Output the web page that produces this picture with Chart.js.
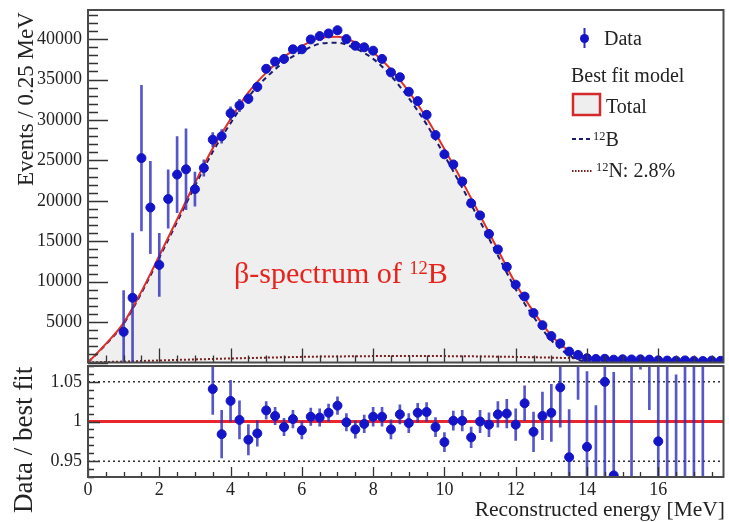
<!DOCTYPE html>
<html>
<head>
<meta charset="utf-8">
<script src="https://cdn.jsdelivr.net/npm/chart.js@4.4.0/dist/chart.umd.min.js"></script>
<style>
  html, body { margin: 0; padding: 0; background: #fff; }
  #wrap { position: relative; width: 729px; height: 522px; overflow: hidden;
          font-family: "Liberation Serif", "Times New Roman", serif; color: #222; }
  canvas { position: absolute; left: 0; }
  #topChart { top: 0; }
  #ratioChart { top: 360px; }
  .t { position: absolute; white-space: nowrap; line-height: 1; }
  .vt { position: absolute; writing-mode: vertical-rl; transform: rotate(180deg);
        text-align: end; white-space: nowrap; line-height: 1; }
  sup { font-size: 0.62em; vertical-align: 0.5em; line-height: 0; }
</style>
</head>
<body>
<div id="wrap">
  <canvas id="topChart" width="729" height="368"></canvas>
  <canvas id="ratioChart" width="729" height="162"></canvas>

  <div class="vt" style="left:14px; top:12px; height:180px; font-size:23px;">Events / 0.25 MeV</div>
  <div class="vt" style="left:10px; top:367px; height:155px; font-size:27px;">Data / best fit</div>
  <div class="t" style="right:4px; top:499px; font-size:21.5px;">Reconstructed energy [MeV]</div>

  <div class="t" style="left:234px; top:258px; font-size:30px; color:#e8221c;">β-spectrum of <sup>12</sup>B</div>

  <svg style="position:absolute; left:560px; top:15px;" width="60" height="170">
    <line x1="24.5" y1="13" x2="24.5" y2="33" stroke="#2a2ac4" stroke-width="2"/>
    <circle cx="24.5" cy="23.5" r="4.5" fill="#1414c8"/>
    <rect x="13" y="79" width="27" height="21" fill="#eeeeee" stroke="#d42a2a" stroke-width="2.5"/>
    <line x1="12" y1="124" x2="33" y2="124" stroke="#1c1c6e" stroke-width="2" stroke-dasharray="4,3"/>
    <line x1="12" y1="156" x2="33" y2="156" stroke="#7a1c1c" stroke-width="2" stroke-dasharray="1.5,1.5"/>
  </svg>
  <div class="t" style="left:604px; top:28px; font-size:20px;">Data</div>
  <div class="t" style="left:571px; top:65px; font-size:20px;">Best fit model</div>
  <div class="t" style="left:606px; top:96px; font-size:20px;">Total</div>
  <div class="t" style="left:593px; top:129px; font-size:20px;"><sup>12</sup>B</div>
  <div class="t" style="left:596px; top:160px; font-size:20px;"><sup>12</sup>N: 2.8%</div>
</div>

<script>
// measured spectrum, 0.25 MeV bins
const energy = [1.0, 1.25, 1.5, 1.75, 2.0, 2.25, 2.5, 2.75, 3.0, 3.25, 3.5, 3.75, 4.0, 4.25, 4.5, 4.75,
  5.0, 5.25, 5.5, 5.75, 6.0, 6.25, 6.5, 6.75, 7.0, 7.25, 7.5, 7.75, 8.0, 8.25, 8.5, 8.75,
  9.0, 9.25, 9.5, 9.75, 10.0, 10.25, 10.5, 10.75, 11.0, 11.25, 11.5, 11.75, 12.0, 12.25, 12.5, 12.75,
  13.0, 13.25, 13.5, 13.75, 14.0, 14.25, 14.5, 14.75, 15.0, 15.25, 15.5, 15.75, 16.0, 16.25, 16.5, 16.75,
  17.0, 17.25, 17.5, 17.75];
const events = [3790, 8010, 25280, 19170, 12070, 20220, 23240, 23890, 21440, 24060, 27560, 27980, 30830, 31800, 32620, 34090,
  36330, 37220, 37550, 38740, 38740, 39960, 40370, 40700, 41100, 40000, 39180, 38990, 38570, 37550, 35880, 35290,
  33490, 32330, 30640, 28130, 25750, 24500, 22390, 19690, 18190, 15900, 13980, 11830, 9630, 8160, 6120, 4610,
  3270, 2360, 1350, 940, 530, 440, 460, 350, 400, 380, 390, 360, 265, 240, 210, 260,
  200, 180, 230, 210];
const eventsErr = [5100, 8000, 9000, 5700, 3900, 3600, 4700, 5000, 2100, 1000, 880, 840, 800, 760, 620, 550,
  400, 400, 400, 400, 400, 400, 400, 400, 400, 400, 400, 400, 400, 400, 400, 400,
  400, 400, 400, 400, 400, 300, 300, 300, 300, 300, 300, 300, 300, 200, 200, 200,
  200, 150, 150, 150, 150, 350, 350, 350, 350, 350, 350, 350, 350, 350, 350, 350,
  350, 350, 350, 350];

// data / best fit
const ratioEnergy = [3.5, 3.75, 4.0, 4.25, 4.5, 4.75, 5.0, 5.25, 5.5, 5.75, 6.0, 6.25, 6.5, 6.75, 7.0, 7.25,
  7.5, 7.75, 8.0, 8.25, 8.5, 8.75, 9.0, 9.25, 9.5, 9.75, 10.0, 10.25, 10.5, 10.75, 11.0, 11.25,
  11.5, 11.75, 12.0, 12.25, 12.5, 12.75, 13.0, 13.25, 13.5, 13.75, 14.0, 14.25, 14.5, 14.75, 15.0, 15.25,
  15.5, 15.75, 16.0, 16.25, 16.5, 16.75, 17.0, 17.25];
const ratio = [1.041, 0.984, 1.026, 1.002, 0.977, 0.985, 1.014, 1.007, 0.993, 1.003, 0.989, 1.006, 1.005, 1.011, 1.020, 0.999,
  0.990, 0.997, 1.006, 1.006, 0.990, 1.009, 0.998, 1.011, 1.012, 0.993, 0.974, 1.001, 1.001, 0.980, 1.000, 0.996,
  1.009, 1.010, 0.996, 1.023, 0.987, 1.007, 1.011, 1.043, 0.955, 1.100, 0.968, 0.920, 1.050, 0.932, 1.400, 1.120,
  1.400, 1.350, 0.975, 0.850, 0.700, 1.100, 0.800, 0.750];
const ratioErr = [0.032, 0.030, 0.026, 0.024, 0.019, 0.016, 0.011, 0.011, 0.011, 0.011, 0.011, 0.011, 0.011, 0.011, 0.011, 0.011,
  0.011, 0.011, 0.012, 0.012, 0.012, 0.012, 0.012, 0.012, 0.012, 0.012, 0.012, 0.012, 0.013, 0.013, 0.014, 0.015,
  0.016, 0.018, 0.020, 0.022, 0.025, 0.030, 0.036, 0.050, 0.060, 0.072, 0.095, 0.100, 0.120, 0.130, 0.200, 0.250,
  0.334, 0.335, 0.300, 0.300, 0.359, 0.400, 0.400, 0.450];

// best fit model curves, 0.5 MeV steps
const modelEnergy = [0, 0.5, 1, 1.5, 2, 2.5, 3, 3.5, 4, 4.5, 5, 5.5, 6, 6.5, 7, 7.5, 8, 8.5, 9, 9.5,
  10, 10.5, 11, 11.5, 12, 12.5, 13, 13.5, 14, 14.5, 15, 15.5, 16, 16.5, 17, 17.5, 18];
const totalModel = [0, 2300, 4900, 8800, 13200, 17700, 22200, 26500, 30100, 33400, 35850, 37800, 39150, 40150, 40300, 39600, 38350, 36250, 33500, 30250,
  26400, 22400, 18200, 13950, 9750, 6300, 3350, 1450, 560, 440, 385, 330, 270, 215, 160, 110, 70];
const b12Model = [0, 2240, 4780, 8615, 12950, 17385, 21820, 26060, 29600, 32850, 35250, 37150, 38450, 39420, 39550, 38830, 37560, 35450, 32700, 29450,
  25610, 21625, 17450, 13230, 9060, 5650, 2750, 900, 70, 0, 0, 0, 0, 0, 0, 0, 0];
const n12Model = [0, 60, 120, 185, 250, 315, 380, 440, 500, 550, 600, 650, 700, 730, 750, 770, 790, 800, 800, 800,
  790, 775, 750, 720, 690, 650, 600, 550, 490, 440, 385, 330, 270, 215, 160, 110, 70];

const xTicks = [0, 2, 4, 6, 8, 10, 12, 14, 16];
const yTicks = [5000, 10000, 15000, 20000, 25000, 30000, 35000, 40000];
const ratioTicks = [0.95, 1, 1.05];
const refLevels = [0.95, 1, 1.05];

const X_MAX = 17.83;
const FONT = { family: 'Liberation Serif', size: 18 };
const BLUE = '#1414c8';
const BAR_BLUE = 'rgba(44,44,190,0.8)';

const pts = (xs, ys) => xs.map((x, i) => ({ x, y: ys[i] }));
const bars = (xs, ys, es) => xs.map((x, i) => ({ x, y: [ys[i] - es[i], ys[i] + es[i]] }));

// ROOT-like frame with ticks pointing into the pad
const rootFrame = {
  id: 'rootFrame',
  afterDatasetsDraw(chart, args, o) {
    const { ctx, chartArea: a, scales: { x, y } } = chart;
    ctx.save();
    ctx.strokeStyle = '#333';
    ctx.lineWidth = 1.3;
    ctx.beginPath();
    const nx = Math.floor(x.max / o.xMinor + 1e-9);
    const xr = Math.round(o.xMajor / o.xMinor);
    for (let i = 0; i <= nx; i++) {
      const px = Math.round(x.getPixelForValue(i * o.xMinor)) + 0.5;
      const len = i % xr === 0 ? o.xMajorLen : o.xMinorLen;
      ctx.moveTo(px, a.bottom);
      ctx.lineTo(px, a.bottom - len);
    }
    const k0 = Math.ceil(y.min / o.yMinor - 1e-9);
    const k1 = Math.floor(y.max / o.yMinor + 1e-9);
    const yr = Math.round(o.yMajor / o.yMinor);
    for (let k = k0; k <= k1; k++) {
      const py = Math.round(y.getPixelForValue(k * o.yMinor)) + 0.5;
      const len = k % yr === 0 ? o.yMajorLen : o.yMinorLen;
      ctx.moveTo(a.left, py);
      ctx.lineTo(a.left + len, py);
    }
    ctx.stroke();
    ctx.strokeStyle = '#4a4a4a';
    ctx.lineWidth = 2;
    ctx.strokeRect(a.left, a.top, a.right - a.left, a.bottom - a.top);
    ctx.restore();
  }
};

function fixAxis(size, horizontal) {
  return (scale) => {
    if (horizontal) scale.height = size; else scale.width = size;
    scale.paddingTop = 0; scale.paddingBottom = 0;
    scale.paddingLeft = 0; scale.paddingRight = 0;
  };
}

const common = {
  responsive: false,
  animation: false,
  events: [],
  plugins: { legend: { display: false }, tooltip: { enabled: false } },
};

// upper pad: spectrum
new Chart(document.getElementById('topChart'), {
  type: 'scatter',
  data: {
    datasets: [
      { type: 'line', data: pts(modelEnergy, totalModel), borderWidth: 0, pointRadius: 0,
        fill: 'origin', backgroundColor: '#efefef', cubicInterpolationMode: 'monotone', order: 6, clip: 0 },
      { type: 'line', data: pts(modelEnergy, n12Model), borderColor: '#7a1c1c', borderWidth: 2, borderDash: [2, 2],
        pointRadius: 0, fill: false, cubicInterpolationMode: 'monotone', order: 5, clip: 0 },
      { type: 'line', data: pts(modelEnergy, b12Model), borderColor: '#1c1c6e', borderWidth: 2, borderDash: [5, 4],
        pointRadius: 0, fill: false, cubicInterpolationMode: 'monotone', order: 4, clip: 0 },
      { type: 'line', data: pts(modelEnergy, totalModel), borderColor: '#e0302a', borderWidth: 2,
        pointRadius: 0, fill: false, cubicInterpolationMode: 'monotone', order: 3, clip: 0 },
      { type: 'bar', data: bars(energy, events, eventsErr), backgroundColor: BAR_BLUE, barThickness: 2,
        grouped: false, order: 2, clip: 0 },
      { data: pts(energy, events), backgroundColor: BLUE, borderColor: BLUE, pointRadius: 4.5, order: 1, clip: 0 },
    ]
  },
  options: {
    ...common,
    layout: { padding: { left: 0, right: 4, top: 10, bottom: 2 } },
    scales: {
      x: { type: 'linear', min: 0, max: X_MAX, offset: false,
           grid: { display: false }, border: { display: false },
           ticks: { display: false }, afterFit: fixAxis(0, true) },
      y: { type: 'linear', min: 0, max: 43600,
           grid: { display: false, drawTicks: false }, border: { display: false },
           afterBuildTicks: (s) => { s.ticks = yTicks.map(v => ({ value: v })); },
           ticks: { font: FONT, color: '#222', padding: 6, callback: (v) => String(v) },
           afterFit: fixAxis(88, false) }
    },
    plugins: {
      ...common.plugins,
      rootFrame: { xMajor: 2, xMinor: 0.5, xMajorLen: 14, xMinorLen: 7,
                   yMajor: 5000, yMinor: 1000, yMajorLen: 20, yMinorLen: 10 }
    }
  },
  plugins: [rootFrame]
});

// lower pad: data / best fit
const refData = refLevels.map(v => [{ x: 0, y: v }, { x: X_MAX, y: v }]);
new Chart(document.getElementById('ratioChart'), {
  type: 'scatter',
  data: {
    datasets: [
      { type: 'line', data: refData[0], borderColor: '#333', borderWidth: 1.5, borderDash: [2, 3], pointRadius: 0, order: 5, clip: 0 },
      { type: 'line', data: refData[2], borderColor: '#333', borderWidth: 1.5, borderDash: [2, 3], pointRadius: 0, order: 5, clip: 0 },
      { type: 'line', data: refData[1], borderColor: '#e8262b', borderWidth: 3, pointRadius: 0, order: 4, clip: 0 },
      { type: 'bar', data: bars(ratioEnergy, ratio, ratioErr), backgroundColor: BAR_BLUE, barThickness: 2,
        grouped: false, order: 2, clip: 0 },
      { data: pts(ratioEnergy, ratio), backgroundColor: BLUE, borderColor: BLUE, pointRadius: 4.5, order: 1, clip: 0 },
    ]
  },
  options: {
    ...common,
    layout: { padding: { left: 0, right: 4, top: 6, bottom: 0 } },
    scales: {
      x: { type: 'linear', min: 0, max: X_MAX, offset: false,
           grid: { display: false, drawTicks: false }, border: { display: false },
           afterBuildTicks: (s) => { s.ticks = xTicks.map(v => ({ value: v })); },
           ticks: { font: FONT, color: '#222', padding: 2, maxRotation: 0, callback: (v) => String(v) },
           afterFit: fixAxis(45, true) },
      y: { type: 'linear', min: 0.93, max: 1.07,
           grid: { display: false, drawTicks: false }, border: { display: false },
           afterBuildTicks: (s) => { s.ticks = ratioTicks.map(v => ({ value: v })); },
           ticks: { font: FONT, color: '#222', padding: 6, callback: (v) => String(v) },
           afterFit: fixAxis(88, false) }
    },
    plugins: {
      ...common.plugins,
      rootFrame: { xMajor: 2, xMinor: 0.5, xMajorLen: 10, xMinorLen: 5,
                   yMajor: 0.05, yMinor: 0.01, yMajorLen: 12, yMinorLen: 6 }
    }
  },
  plugins: [rootFrame]
});
</script>
</body>
</html>
